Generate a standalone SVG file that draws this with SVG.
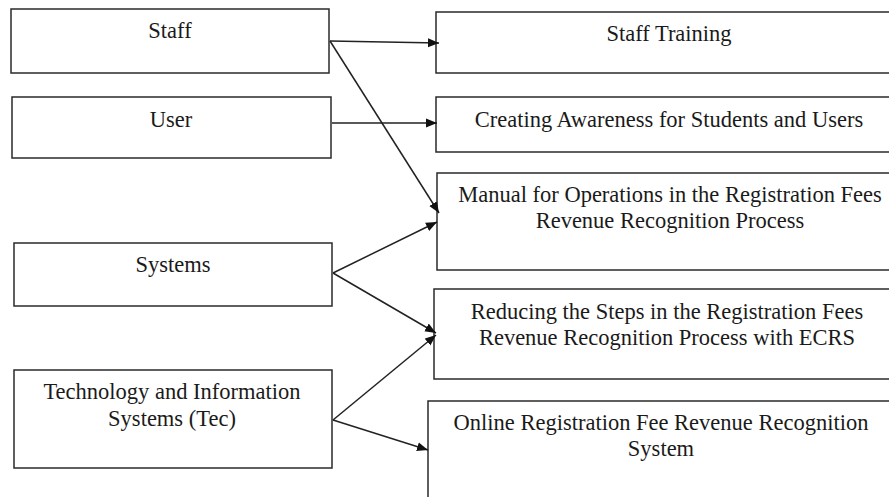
<svg xmlns="http://www.w3.org/2000/svg" width="889" height="497" viewBox="0 0 889 497">
<defs>
<style>
.box{fill:#fff;stroke:#2a2a2a;stroke-width:1.5}
.t{font-family:"Liberation Serif","Times New Roman",serif;font-size:22.5px;fill:#1a1a1a;text-anchor:middle}
.c{fill:none;stroke:#222;stroke-width:1.5}
</style>
<marker id="ah" viewBox="0 0 11 10" refX="11" refY="5" markerWidth="11" markerHeight="10" markerUnits="userSpaceOnUse" orient="auto">
<path d="M0,0.5 L11,5 L0,9.5 Z" fill="#111"/>
</marker>
</defs>
<rect width="889" height="497" fill="#fff"/>
<g id="staff"><rect class="box" x="11" y="9" width="318" height="64"/><text class="t" x="170" y="38">Staff</text></g>
<g id="user"><rect class="box" x="12" y="97" width="319" height="61"/><text class="t" x="171" y="127">User</text></g>
<g id="systems"><rect class="box" x="14" y="243" width="318" height="63"/><text class="t" x="173" y="272">Systems</text></g>
<g id="tec"><rect class="box" x="14" y="370" width="318" height="98"/><text class="t" x="172" y="399">Technology and Information</text><text class="t" x="172" y="426">Systems (Tec)</text></g>
<g id="training"><rect class="box" x="436" y="12" width="470" height="61"/><text class="t" x="669" y="41">Staff Training</text></g>
<g id="awareness"><rect class="box" x="436" y="97" width="470" height="55"/><text class="t" x="669" y="127">Creating Awareness for Students and Users</text></g>
<g id="manual"><rect class="box" x="437" y="173" width="470" height="97"/><text class="t" x="670" y="202">Manual for Operations in the Registration Fees</text><text class="t" x="670" y="228">Revenue Recognition Process</text></g>
<g id="reducing"><rect class="box" x="434" y="289" width="470" height="90"/><text class="t" x="667" y="319">Reducing the Steps in the Registration Fees</text><text class="t" x="667" y="345">Revenue Recognition Process with ECRS</text></g>
<g id="online"><rect class="box" x="428" y="401" width="480" height="120"/><text class="t" x="661" y="430">Online Registration Fee Revenue Recognition</text><text class="t" x="661" y="456">System</text></g>
<g id="connectors">
<line class="c" x1="330" y1="41" x2="439" y2="43" marker-end="url(#ah)"/>
<line class="c" x1="330" y1="41" x2="439" y2="213" marker-end="url(#ah)"/>
<line class="c" x1="332" y1="123" x2="437" y2="123" marker-end="url(#ah)"/>
<line class="c" x1="333" y1="273" x2="437" y2="222" marker-end="url(#ah)"/>
<line class="c" x1="333" y1="273" x2="436" y2="333" marker-end="url(#ah)"/>
<line class="c" x1="333" y1="420" x2="436" y2="335" marker-end="url(#ah)"/>
<line class="c" x1="333" y1="420" x2="428" y2="450" marker-end="url(#ah)"/>
</g>
</svg>
